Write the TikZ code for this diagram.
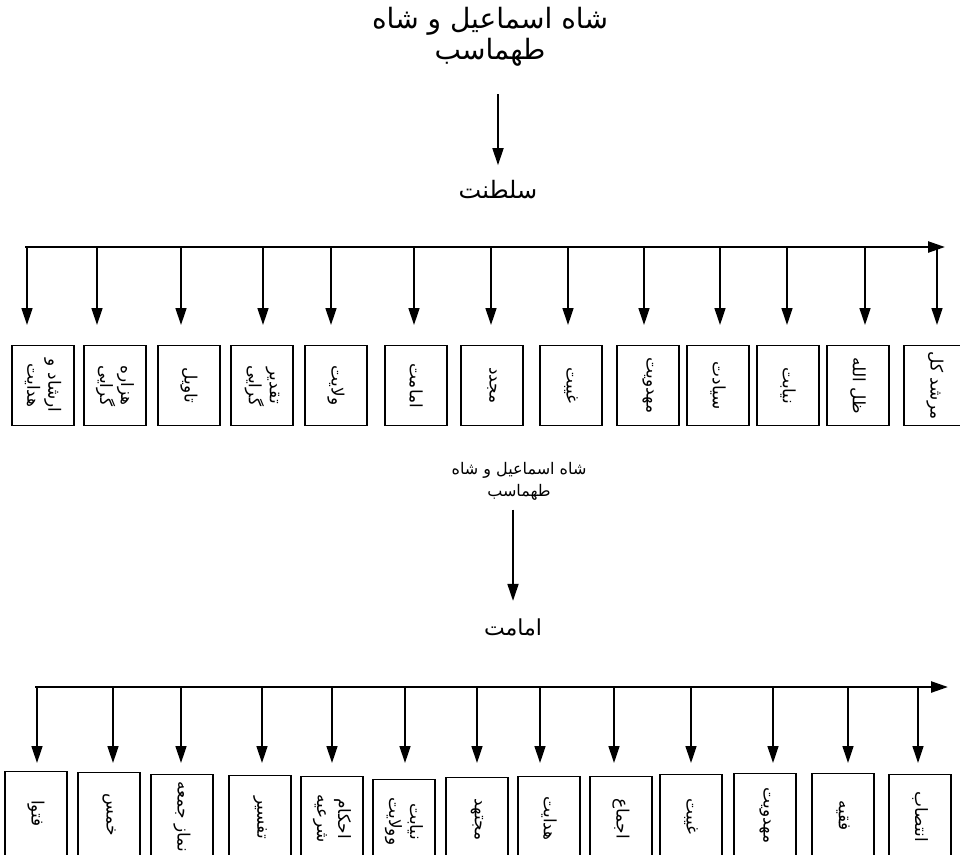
\documentclass[tikz,border=0pt]{standalone}
\usepackage{fontspec}
\newfontfamily\arabicfont[Script=Arabic]{DejaVu Sans}
\TeXXeTstate=1
\usetikzlibrary{arrows.meta}
\newcommand{\fa}[1]{\beginR #1\endR}

\begin{document}
\begin{tikzpicture}[x=1pt, y=1pt, >={Triangle[length=17pt, width=11pt]},
  bigtitle/.style={align=center, font=\arabicfont\fontsize{28}{31}\selectfont},
  smalltitle/.style={align=center, font=\arabicfont\fontsize{16}{22}\selectfont},
  itembox/.style={draw, line width=1.2pt, rotate=-90, anchor=west, minimum width=80pt,
    minimum height=62pt, inner sep=2pt, align=center, font=\arabicfont\fontsize{17}{21}\selectfont},
  bar/.style={->, line width=2.4pt},
  drop/.style={->, line width=1.4pt}]
	\useasboundingbox (0,0) rectangle (960,-854);
	
	% first chart
	\node[bigtitle] (t1) at (490,-37) {\fa{شاه اسماعیل و شاه}\\\fa{طهماسب}};
	\node[bigtitle, font=\arabicfont\fontsize{24}{28}\selectfont] (s1) at (498,-190) {\fa{سلطنت}};
	\draw[->, line width=1.8pt, shorten <=24pt, shorten >=12pt] (s1 |- t1.south) -- (s1.north);
	
	\coordinate (tl) at (25,-247);
	\coordinate (tr) at (945,-247);
	\draw[bar] (tl) -- (tr);
	\foreach \i/\bx/\ax/\txt in {1/43/27/{\fa{ارشاد و}\\\fa{هدایت}}, 2/115/97/{\fa{هزاره}\\\fa{گرایی}},
		3/189/181/{\fa{تاویل}}, 4/262/263/{\fa{تقدیر}\\\fa{گرایی}}, 5/336/331/{\fa{ولایت}},
		6/416/414/{\fa{امامت}}, 7/492/491/{\fa{مجدد}}, 8/571/568/{\fa{غیبت}},
		9/648/644/{\fa{مهدویت}}, 10/718/720/{\fa{سیادت}}, 11/788/787/{\fa{نیابت}},
		12/858/865/{\fa{ظل الله}}, 13/935/937/{\fa{مرشد کل}}}
	{
		\node[itembox] (tb\i) at (\bx,-345) {\txt};
		\coordinate (ta\i) at (\ax,-247);
		\draw[drop, shorten >=20pt] (ta\i) -- (ta\i |- tb\i.west);
	}
	
	% second chart
	\node[smalltitle] (t2) at (519,-481) {\fa{شاه اسماعیل و شاه}\\\fa{طهماسب}};
	\node[bigtitle, font=\arabicfont\fontsize{22}{26}\selectfont] (s2) at (513,-627) {\fa{امامت}};
	\draw[->, line width=1.8pt, shorten <=6pt, shorten >=14pt] (s2 |- t2.south) -- (s2.north);
	
	\coordinate (bl) at (35,-687);
	\coordinate (br) at (948,-687);
	\draw[bar] (bl) -- (br);
	\foreach \i/\bx/\ax/\by/\txt in {1/36/37/771/{\fa{فتوا}}, 2/109/113/772/{\fa{خمس}},
		3/182/181/774/{\fa{نماز جمعه}}, 4/260/262/775/{\fa{تفسیر}},
		5/332/332/776/{\fa{احکام}\\\fa{شرعیه}}, 6/404/405/779/{\fa{نیابت}\\\fa{وولایت}},
		7/477/477/777/{\fa{مجتهد}}, 8/549/540/776/{\fa{هدایت}}, 9/621/614/776/{\fa{اجماع}},
		10/691/691/774/{\fa{غیبت}}, 11/765/773/773/{\fa{مهدویت}}, 12/843/848/773/{\fa{فقیه}},
		13/920/918/774/{\fa{انتصاب}}}
	{
		\node[itembox, minimum width=84pt] (bb\i) at (\bx,-\by) {\txt};
		\coordinate (ba\i) at (\ax,-687);
		\draw[drop, shorten >=\by pt-763pt] (ba\i) -- (ba\i |- bb\i.west);
	}
\end{tikzpicture}
\end{document}
